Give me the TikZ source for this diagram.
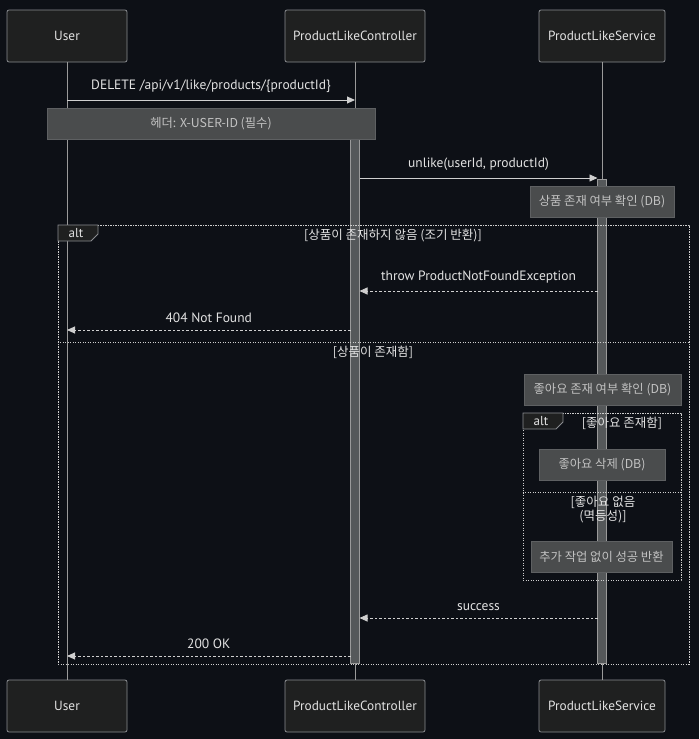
\documentclass[tikz,border=0pt]{standalone}
\usepackage{fontspec}
\setmainfont{PT Sans}
\newfontfamily\kr{Noto Sans CJK KR}
\usetikzlibrary{arrows.meta}

\definecolor{bgdark}{HTML}{0D1016}
\definecolor{actorfill}{HTML}{1F2020}
\definecolor{actorline}{HTML}{8A8C90}
\definecolor{notefill}{HTML}{4A4C4D}
\definecolor{noteline}{HTML}{5E6062}
\definecolor{notetext}{HTML}{C2C2C2}
\definecolor{txtlight}{HTML}{E2E2E2}
\definecolor{lineclr}{HTML}{CFCFCF}
\definecolor{lifeclr}{HTML}{9A9A9A}
\definecolor{barfill}{HTML}{55585A}

\begin{document}
\begin{tikzpicture}[x=1pt, y=-1pt,
    actor/.style={draw=actorline, fill=actorfill, rounded corners=2pt, line width=0.8pt,
        minimum height=52pt, text=txtlight, font=\fontsize{13.3}{15}\selectfont},
    note/.style={draw=noteline, fill=notefill, minimum height=31pt, inner sep=0pt,
        text=notetext, font=\fontsize{12.3}{14}\selectfont\kr},
    actbar/.style={draw=lifeclr, fill=barfill, minimum width=9pt, inner sep=0pt},
    msg/.style={draw=lineclr, line width=0.9pt, -{Triangle[length=8pt,width=7pt]}},
    reply/.style={msg, dash pattern=on 2.5pt off 2pt},
    lbl/.style={text=txtlight, font=\fontsize{13.5}{15}\selectfont},
    frame/.style={draw=lineclr, line width=1pt, dash pattern=on 1.2pt off 1.3pt},
    tab/.style={draw=actorline, fill=actorfill, line width=0.8pt},
    guard/.style={text=txtlight, font=\fontsize{12.5}{14}\selectfont\kr, align=center}
]
    % 1. Background
    \fill[bgdark] (0,0) rectangle (699,739);

    % 2. Participants, top and bottom
    \node[actor, minimum width=120pt] (userTop) at (67,36) {User};
    \node[actor, minimum width=140pt] (ctrlTop) at (355,36) {ProductLikeController};
    \node[actor, minimum width=126pt] (svcTop) at (602,36) {ProductLikeService};
    \node[actor, minimum width=120pt] (userBot) at (67,706) {User};
    \node[actor, minimum width=140pt] (ctrlBot) at (355,706) {ProductLikeController};
    \node[actor, minimum width=126pt] (svcBot) at (602,706) {ProductLikeService};

    % 3. Lifelines
    \draw[lifeclr, line width=0.9pt] (userTop) -- (userBot);
    \draw[lifeclr, line width=0.9pt] (ctrlTop) -- (ctrlBot);
    \draw[lifeclr, line width=0.9pt] (svcTop) -- (svcBot);

    % 4. Activation bars
    \node[actbar, minimum height=524pt] (ctrlAct) at (355,401) {};
    \node[actbar, minimum height=484pt] (svcAct) at (602,421) {};

    % 5. Request and header note
    \coordinate (delFrom) at (67,100);
    \coordinate (delTo) at (355,100);
    \draw[msg] (delFrom) -- node[lbl, above=4pt] {DELETE /api/v1/like/products/\{productId\}} (delTo);
    \node[note, minimum width=328pt] (hdrNote) at (211,123.5) {헤더: X-USER-ID (필수)};

    \coordinate (unlikeFrom) at (359.5,178);
    \coordinate (unlikeTo) at (597.5,178);
    \draw[msg] (unlikeFrom) -- node[lbl, above=4pt] {unlike(userId, productId)} (unlikeTo);
    \node[note, minimum width=144pt] (chkProduct) at (602,201.5) {상품 존재 여부 확인 (DB)};

    % 6. Outer alt frame
    \node[frame, minimum width=631pt, minimum height=439pt, inner sep=0pt] (altOuter) at (373.5,444.5) {};
    \draw[tab] (58,225) -- (98,225) -- (98,234) -- (91,241) -- (58,241) -- cycle;
    \node[lbl, font=\fontsize{13}{14}\selectfont] (altOuterTag) at (76,233.5) {alt};
    \node[guard] (grdMissing) at (393,236) {[상품이 존재하지 않음 (조기 반환)]};

    \coordinate (throwFrom) at (597.5,291);
    \coordinate (throwTo) at (359.5,291);
    \draw[reply] (throwFrom) -- node[lbl, above=4pt] {throw ProductNotFoundException} (throwTo);
    \coordinate (nfFrom) at (350.5,330);
    \coordinate (nfTo) at (67,330);
    \draw[reply] (nfFrom) -- node[lbl, above=4pt] {404 Not Found} (nfTo);

    \draw[frame] (altOuter.west |- 0,342) -- (altOuter.east |- 0,342);
    \node[guard] (grdExists) at (373,352) {[상품이 존재함]};

    \node[note, minimum width=157pt] (chkLike) at (602.5,389.5) {좋아요 존재 여부 확인 (DB)};

    % 7. Inner alt frame
    \node[frame, minimum width=158pt, minimum height=167pt, inner sep=0pt] (altInner) at (602,496.5) {};
    \draw[tab] (523,413) -- (563,413) -- (563,422) -- (556,429) -- (523,429) -- cycle;
    \node[lbl, font=\fontsize{13}{14}\selectfont] (altInnerTag) at (541,421.5) {alt};
    \node[guard] (grdLiked) at (622,423) {[좋아요 존재함]};
    \node[note, minimum width=126pt] (delLike) at (602,464.5) {좋아요 삭제 (DB)};

    \draw[frame] (altInner.west |- 0,492) -- (altInner.east |- 0,492);
    \node[guard, font=\fontsize{12.5}{14}\selectfont\kr] (grdNoLike) at (603,510) {[좋아요 없음\\(멱등성)]};
    \node[note, minimum width=141pt] (noop) at (601.5,556.5) {추가 작업 없이 성공 반환};

    % 8. Replies
    \coordinate (okFrom) at (597.5,618);
    \coordinate (okTo) at (359.5,618);
    \draw[reply] (okFrom) -- node[lbl, above=4pt] {success} (okTo);
    \coordinate (resFrom) at (350.5,656);
    \coordinate (resTo) at (67,656);
    \draw[reply] (resFrom) -- node[lbl, above=4pt] {200 OK} (resTo);
\end{tikzpicture}
\end{document}
